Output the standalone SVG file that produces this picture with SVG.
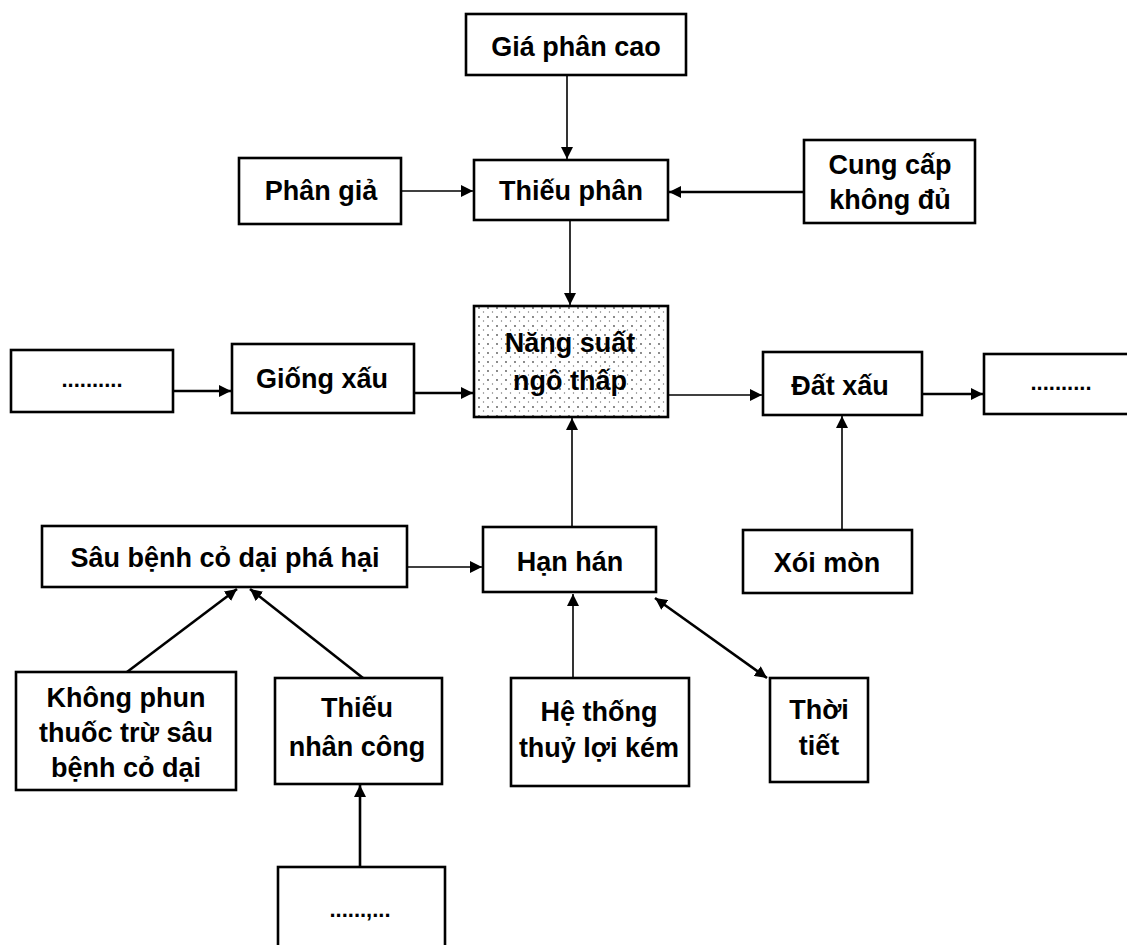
<svg xmlns="http://www.w3.org/2000/svg" width="1127" height="945" viewBox="0 0 1127 945">
<defs>
<style>
.box{fill:#fff;stroke:#000;stroke-width:2.6}
.t{font-family:"Liberation Sans",Arial,sans-serif;font-weight:bold;font-size:27px;text-anchor:middle;fill:#000}
.d{font-family:"Liberation Sans",Arial,sans-serif;font-weight:bold;font-size:22px;text-anchor:middle;fill:#000}
.c{stroke:#000;stroke-width:1.6;fill:none}
.ct{stroke:#000;stroke-width:2.6;fill:none}
</style>
<marker id="ahb" viewBox="0 0 10 10" refX="10" refY="5" markerWidth="12" markerHeight="12" markerUnits="userSpaceOnUse" orient="auto-start-reverse">
<path d="M0,0 L10,5 L0,10 Z" fill="#000"/>
</marker>
<pattern id="dots" width="9" height="9" patternUnits="userSpaceOnUse">
<rect width="9" height="9" fill="#fff"/>
<circle cx="2" cy="2" r="0.9" fill="#555"/>
<circle cx="6.5" cy="6" r="0.7" fill="#777"/>
</pattern>
</defs>

<g id="connectors">
<line class="c" x1="567" y1="75" x2="567" y2="159" marker-end="url(#ahb)"/>
<line class="c" x1="401" y1="191" x2="473" y2="191" marker-end="url(#ahb)"/>
<line class="ct" x1="804" y1="192" x2="669" y2="192" marker-end="url(#ahb)"/>
<line class="c" x1="570" y1="220" x2="570" y2="305" marker-end="url(#ahb)"/>
<line class="ct" x1="173" y1="391" x2="231" y2="391" marker-end="url(#ahb)"/>
<line class="ct" x1="414" y1="393" x2="473" y2="393" marker-end="url(#ahb)"/>
<line class="c" x1="668" y1="395" x2="762" y2="395" marker-end="url(#ahb)"/>
<line class="ct" x1="922" y1="394" x2="983" y2="394" marker-end="url(#ahb)"/>
<line class="c" x1="572" y1="527" x2="572" y2="418" marker-end="url(#ahb)"/>
<line class="c" x1="842" y1="530" x2="842" y2="416" marker-end="url(#ahb)"/>
<line class="c" x1="407" y1="567" x2="482" y2="567" marker-end="url(#ahb)"/>
<line class="ct" x1="127" y1="672" x2="237" y2="589" marker-end="url(#ahb)"/>
<line class="ct" x1="363" y1="678" x2="250" y2="589" marker-end="url(#ahb)"/>
<line class="c" x1="573" y1="678" x2="573" y2="594" marker-end="url(#ahb)"/>
<line class="ct" x1="655" y1="598" x2="767" y2="678" marker-start="url(#ahb)" marker-end="url(#ahb)"/>
<line class="ct" x1="360" y1="867" x2="360" y2="785" marker-end="url(#ahb)"/>
</g>

<g id="gia-phan-cao"><rect class="box" x="466" y="14" width="220" height="61"/><text class="t" x="576" y="56">Giá phân cao</text></g>
<g id="phan-gia"><rect class="box" x="239" y="158" width="162" height="66"/><text class="t" x="321" y="200">Phân giả</text></g>
<g id="thieu-phan"><rect class="box" x="474" y="160" width="194" height="60"/><text class="t" x="571" y="200">Thiếu phân</text></g>
<g id="cung-cap"><rect class="box" x="804" y="140" width="171" height="83"/><text class="t" x="890" y="174">Cung cấp</text><text class="t" x="890" y="209">không đủ</text></g>

<g id="dots-left"><rect class="box" x="11" y="350" width="162" height="62"/><text class="d" x="92" y="387">..........</text></g>
<g id="giong-xau"><rect class="box" x="232" y="344" width="182" height="69"/><text class="t" x="322" y="388">Giống xấu</text></g>
<g id="nang-suat"><rect class="box" x="474" y="306" width="194" height="111" style="fill:url(#dots)"/><text class="t" x="570" y="352">Năng suất</text><text class="t" x="570" y="390">ngô thấp</text></g>
<g id="dat-xau"><rect class="box" x="763" y="352" width="159" height="63"/><text class="t" x="840" y="395">Đất xấu</text></g>
<g id="dots-right"><rect class="box" x="984" y="354" width="160" height="60"/><text class="d" x="1061" y="390">..........</text></g>

<g id="sau-benh"><rect class="box" x="42" y="526" width="365" height="61"/><text class="t" x="225" y="567">Sâu bệnh cỏ dại phá hại</text></g>
<g id="han-han"><rect class="box" x="483" y="527" width="173" height="65"/><text class="t" x="570" y="571">Hạn hán</text></g>
<g id="xoi-mon"><rect class="box" x="743" y="530" width="169" height="63"/><text class="t" x="827" y="572">Xói mòn</text></g>

<g id="khong-phun"><rect class="box" x="16" y="672" width="220" height="118"/><text class="t" x="126" y="707">Không phun</text><text class="t" x="126" y="742">thuốc trừ sâu</text><text class="t" x="126" y="777">bệnh cỏ dại</text></g>
<g id="thieu-nhan-cong"><rect class="box" x="275" y="678" width="167" height="106"/><text class="t" x="357" y="717">Thiếu</text><text class="t" x="357" y="756">nhân công</text></g>
<g id="he-thong"><rect class="box" x="511" y="678" width="178" height="108"/><text class="t" x="599" y="721">Hệ thống</text><text class="t" x="599" y="757">thuỷ lợi kém</text></g>
<g id="thoi-tiet"><rect class="box" x="770" y="678" width="98" height="104"/><text class="t" x="819" y="719">Thời</text><text class="t" x="819" y="755">tiết</text></g>

<g id="dots-bottom"><rect class="box" x="278" y="867" width="167" height="90"/><text class="d" x="360" y="917">......,...</text></g>
</svg>
